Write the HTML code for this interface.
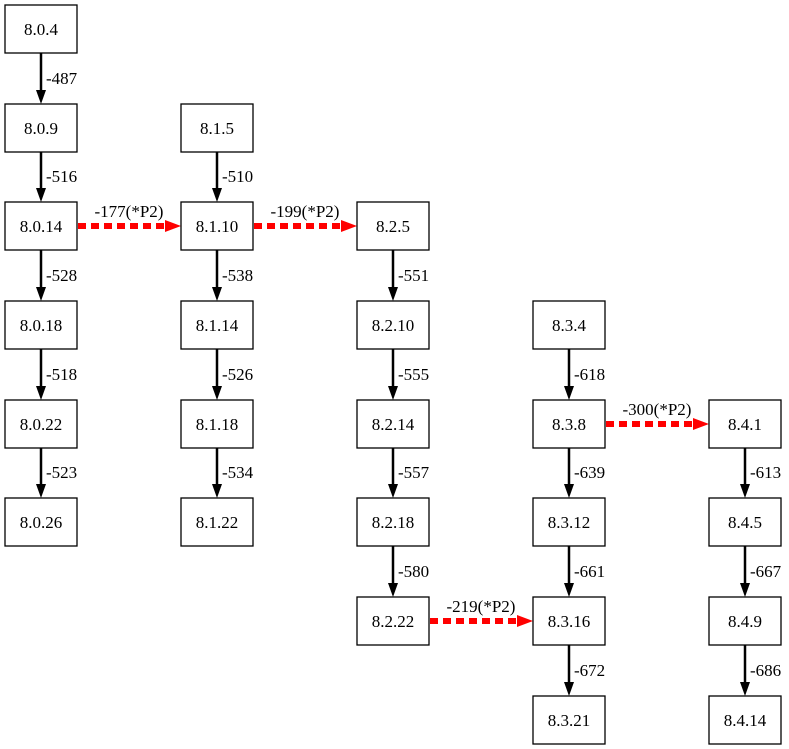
<!DOCTYPE html>
<html><head><meta charset="utf-8"><style>
html,body{margin:0;padding:0;background:#fff;}
svg{display:block;}
text{font-family:"Liberation Serif",serif;font-size:17px;fill:#000;}
.b{fill:#fff;stroke:#000;stroke-width:1.3;}
.e{stroke:#000;stroke-width:2.5;}
.r{stroke:#f00;stroke-width:6;stroke-dasharray:8,5;}
</style></head><body>
<svg width="789" height="749" viewBox="0 0 789 749" xmlns="http://www.w3.org/2000/svg">
<g>
<line class="e" x1="41" y1="53" x2="41" y2="90"/><polygon points="36,90 46,90 41,104"/><text x="46" y="84">-487</text>
<line class="e" x1="41" y1="152" x2="41" y2="188"/><polygon points="36,188 46,188 41,202"/><text x="46" y="182">-516</text>
<line class="e" x1="41" y1="250" x2="41" y2="287"/><polygon points="36,287 46,287 41,301"/><text x="46" y="281">-528</text>
<line class="e" x1="41" y1="349" x2="41" y2="386"/><polygon points="36,386 46,386 41,400"/><text x="46" y="380">-518</text>
<line class="e" x1="41" y1="448" x2="41" y2="484"/><polygon points="36,484 46,484 41,498"/><text x="46" y="478">-523</text>
<line class="e" x1="217" y1="152" x2="217" y2="188"/><polygon points="212,188 222,188 217,202"/><text x="222" y="182">-510</text>
<line class="e" x1="217" y1="250" x2="217" y2="287"/><polygon points="212,287 222,287 217,301"/><text x="222" y="281">-538</text>
<line class="e" x1="217" y1="349" x2="217" y2="386"/><polygon points="212,386 222,386 217,400"/><text x="222" y="380">-526</text>
<line class="e" x1="217" y1="448" x2="217" y2="484"/><polygon points="212,484 222,484 217,498"/><text x="222" y="478">-534</text>
<line class="e" x1="393" y1="250" x2="393" y2="287"/><polygon points="388,287 398,287 393,301"/><text x="398" y="281">-551</text>
<line class="e" x1="393" y1="349" x2="393" y2="386"/><polygon points="388,386 398,386 393,400"/><text x="398" y="380">-555</text>
<line class="e" x1="393" y1="448" x2="393" y2="484"/><polygon points="388,484 398,484 393,498"/><text x="398" y="478">-557</text>
<line class="e" x1="393" y1="546" x2="393" y2="583"/><polygon points="388,583 398,583 393,597"/><text x="398" y="577">-580</text>
<line class="e" x1="569" y1="349" x2="569" y2="386"/><polygon points="564,386 574,386 569,400"/><text x="574" y="380">-618</text>
<line class="e" x1="569" y1="448" x2="569" y2="484"/><polygon points="564,484 574,484 569,498"/><text x="574" y="478">-639</text>
<line class="e" x1="569" y1="546" x2="569" y2="583"/><polygon points="564,583 574,583 569,597"/><text x="574" y="577">-661</text>
<line class="e" x1="569" y1="645" x2="569" y2="682"/><polygon points="564,682 574,682 569,696"/><text x="574" y="676">-672</text>
<line class="e" x1="745" y1="448" x2="745" y2="484"/><polygon points="740,484 750,484 745,498"/><text x="750" y="478">-613</text>
<line class="e" x1="745" y1="546" x2="745" y2="583"/><polygon points="740,583 750,583 745,597"/><text x="750" y="577">-667</text>
<line class="e" x1="745" y1="645" x2="745" y2="682"/><polygon points="740,682 750,682 745,696"/><text x="750" y="676">-686</text>
</g>
<g>
<line class="r" x1="78" y1="226" x2="166" y2="226"/><polygon fill="#f00" points="165,220 181,226 165,232"/><text x="129" y="217" text-anchor="middle">-177(*P2)</text>
<line class="r" x1="254" y1="226" x2="342" y2="226"/><polygon fill="#f00" points="341,220 357,226 341,232"/><text x="305" y="217" text-anchor="middle">-199(*P2)</text>
<line class="r" x1="430" y1="621" x2="518" y2="621"/><polygon fill="#f00" points="517,615 533,621 517,627"/><text x="481" y="612" text-anchor="middle">-219(*P2)</text>
<line class="r" x1="606" y1="424" x2="694" y2="424"/><polygon fill="#f00" points="693,418 709,424 693,430"/><text x="657" y="415" text-anchor="middle">-300(*P2)</text>
</g>
<g text-anchor="middle">
<rect class="b" x="5" y="5" width="72" height="48"/><text x="41" y="35">8.0.4</text>
<rect class="b" x="5" y="104" width="72" height="48"/><text x="41" y="134">8.0.9</text>
<rect class="b" x="5" y="202" width="72" height="48"/><text x="41" y="232">8.0.14</text>
<rect class="b" x="5" y="301" width="72" height="48"/><text x="41" y="331">8.0.18</text>
<rect class="b" x="5" y="400" width="72" height="48"/><text x="41" y="430">8.0.22</text>
<rect class="b" x="5" y="498" width="72" height="48"/><text x="41" y="528">8.0.26</text>
<rect class="b" x="181" y="104" width="72" height="48"/><text x="217" y="134">8.1.5</text>
<rect class="b" x="181" y="202" width="72" height="48"/><text x="217" y="232">8.1.10</text>
<rect class="b" x="181" y="301" width="72" height="48"/><text x="217" y="331">8.1.14</text>
<rect class="b" x="181" y="400" width="72" height="48"/><text x="217" y="430">8.1.18</text>
<rect class="b" x="181" y="498" width="72" height="48"/><text x="217" y="528">8.1.22</text>
<rect class="b" x="357" y="202" width="72" height="48"/><text x="393" y="232">8.2.5</text>
<rect class="b" x="357" y="301" width="72" height="48"/><text x="393" y="331">8.2.10</text>
<rect class="b" x="357" y="400" width="72" height="48"/><text x="393" y="430">8.2.14</text>
<rect class="b" x="357" y="498" width="72" height="48"/><text x="393" y="528">8.2.18</text>
<rect class="b" x="357" y="597" width="72" height="48"/><text x="393" y="627">8.2.22</text>
<rect class="b" x="533" y="301" width="72" height="48"/><text x="569" y="331">8.3.4</text>
<rect class="b" x="533" y="400" width="72" height="48"/><text x="569" y="430">8.3.8</text>
<rect class="b" x="533" y="498" width="72" height="48"/><text x="569" y="528">8.3.12</text>
<rect class="b" x="533" y="597" width="72" height="48"/><text x="569" y="627">8.3.16</text>
<rect class="b" x="533" y="696" width="72" height="48"/><text x="569" y="726">8.3.21</text>
<rect class="b" x="709" y="400" width="72" height="48"/><text x="745" y="430">8.4.1</text>
<rect class="b" x="709" y="498" width="72" height="48"/><text x="745" y="528">8.4.5</text>
<rect class="b" x="709" y="597" width="72" height="48"/><text x="745" y="627">8.4.9</text>
<rect class="b" x="709" y="696" width="72" height="48"/><text x="745" y="726">8.4.14</text>
</g>
</svg>
</body></html>
